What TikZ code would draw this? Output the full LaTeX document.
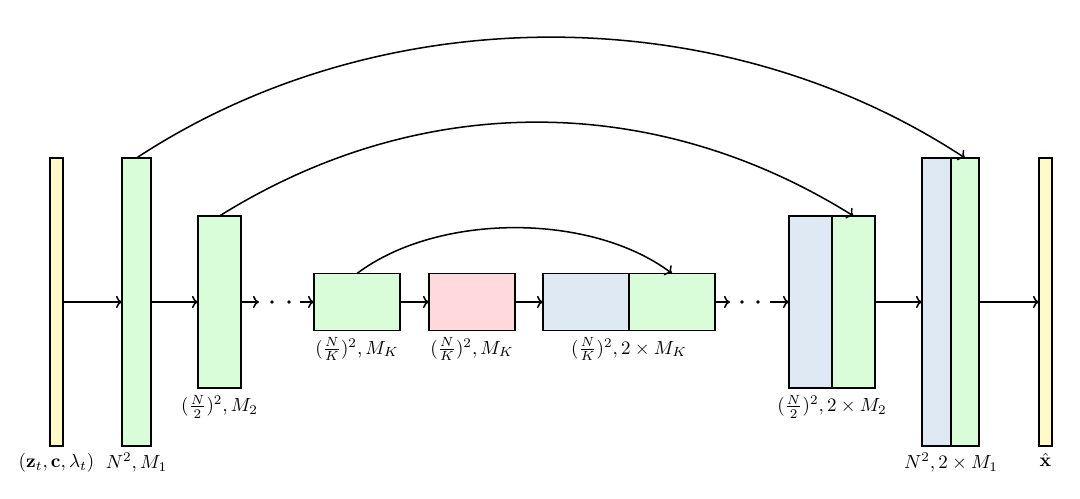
\documentclass[tikz,border=0pt]{standalone}
\usepackage{amsmath}
\usetikzlibrary{arrows.meta}
\definecolor{cyel}{RGB}{255,250,200}
\definecolor{cgrn}{RGB}{217,252,217}
\definecolor{cred}{RGB}{255,217,220}
\definecolor{cblu}{RGB}{222,233,243}
\newcommand{\pxu}{0.0185cm}
\tikzset{
  blk/.style={draw=black, line width=0.8pt, inner sep=0pt, outer sep=0pt},
  conn/.style={-{To[length=3.2pt,width=6.5pt]}, line width=0.8pt},
  lab/.style={anchor=north, inner sep=0pt, font=\normalsize},
  dotsnode/.style={inner sep=0pt, outer sep=0pt, minimum height=2pt}
}
\newcommand{\blk}[6]{\node[blk, fill=#6, minimum width={(#4-#2)*\pxu}, minimum height={(#5-#3)*\pxu}] (#1) at ({(#2+#4)/2},{(#3+#5)/2}) {};}
\begin{document}
\begin{tikzpicture}[x=\pxu, y=-\pxu]
\useasboundingbox (0,0) rectangle (1080,499);
% blocks
\blk{yl}{50}{158}{63}{446}{cyel}
\blk{ga}{122}{158}{151}{446}{cgrn}
\blk{gb}{198}{216}{241}{388}{cgrn}
\blk{gk}{314}{273.5}{400}{330.5}{cgrn}
\blk{rk}{429}{273.5}{515}{330.5}{cred}
\blk{ck}{543}{273.5}{629}{330.5}{cblu}
\blk{hk}{629}{273.5}{715}{330.5}{cgrn}
\blk{cb}{789}{216}{832}{388}{cblu}
\blk{hb}{832}{216}{875}{388}{cgrn}
\blk{ca}{922}{158}{951}{446}{cblu}
\blk{ha}{951}{158}{979}{446}{cgrn}
\blk{yr}{1039}{158}{1052}{446}{cyel}
% dots
\node[dotsnode, minimum width={41*\pxu}] (d1) at (279.5,302) {};
\node[dotsnode, minimum width={40*\pxu}] (d2) at (750,302) {};
\fill (272,302) circle (1.8);
\fill (289,302) circle (1.8);
\fill (742,302) circle (1.8);
\fill (758,302) circle (1.8);
% forward arrows
\draw[conn] (yl.east) -- (ga.west);
\draw[conn] (ga.east) -- (gb.west);
\draw[conn] (gb.east) -- (d1.west);
\draw[conn] (d1.east) -- (gk.west);
\draw[conn] (gk.east) -- (rk.west);
\draw[conn] (rk.east) -- (ck.west);
\draw[conn] (hk.east) -- (d2.west);
\draw[conn] (d2.east) -- (cb.west);
\draw[conn] (hb.east) -- (ca.west);
\draw[conn] (ha.east) -- (yr.west);
% skip connections
\draw[conn] (ga.north) .. controls +(245,-161) and +(-245,-161) .. (ha.north);
\draw[conn] (gb.north) .. controls +(200,-125) and +(-200,-125) .. (hb.north);
\draw[conn] (gk.north) .. controls +(81,-61) and +(-81,-61) .. (hk.north);
% labels
\node[lab] (lyl) at ([yshift=-3.5pt]yl.south) {$(\mathbf{z}_t, \mathbf{c}, \lambda_t)$};
\node[lab] (lga) at ([yshift=-3.5pt]ga.south) {$N^2, M_1$};
\node[lab] (lgb) at ([yshift=-3.5pt]gb.south) {$(\frac{N}{2})^2, M_2$};
\node[lab] (lgk) at ([yshift=-3.5pt]gk.south) {$(\frac{N}{K})^2, M_K$};
\node[lab] (lrk) at ([yshift=-3.5pt]rk.south) {$(\frac{N}{K})^2, M_K$};
\node[lab] (lck) at ([yshift=-3.5pt]ck.south east) {$(\frac{N}{K})^2, 2\times M_K$};
\node[lab] (lcb) at ([yshift=-3.5pt]cb.south east) {$(\frac{N}{2})^2, 2\times M_2$};
\node[lab] (lca) at ([yshift=-3.5pt]ca.south east) {$N^2, 2\times M_1$};
\node[lab] (lyr) at ([yshift=-3.5pt]yr.south) {$\hat{\mathbf{x}}$};
\end{tikzpicture}
\end{document}
